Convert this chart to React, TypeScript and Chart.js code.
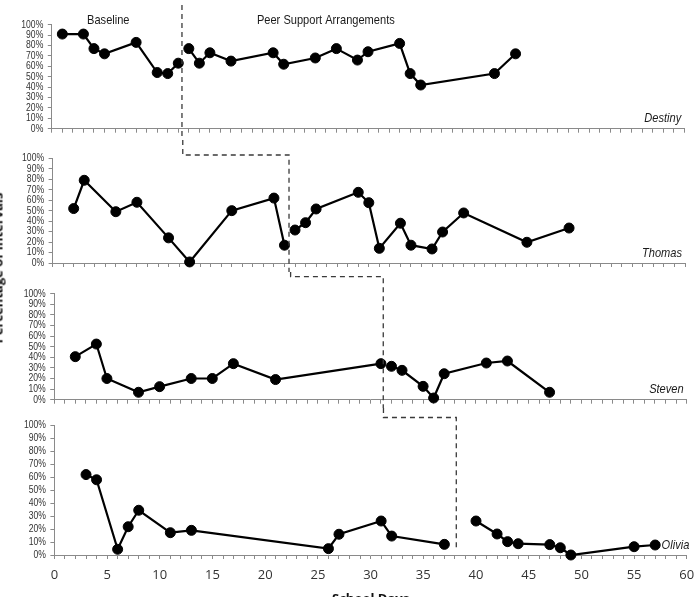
import React, { useEffect, useRef } from 'react';
import { Chart, registerables } from 'chart.js';

Chart.register(...registerables);

// ---------- data ----------
const students = ['Destiny', 'Thomas', 'Steven', 'Olivia'];
const phaseNames = ['Baseline', 'Peer Support Arrangements'];
const xAxisTitle = 'School Days';
const yAxisTitle = 'Percentage of Intervals';

const destinyBaselineDays = [1, 3, 4, 5, 8, 10, 11, 12];
const destinyBaselineValues = [91, 91, 77, 72, 83, 54, 53, 63];
const destinyPeerDays = [13, 14, 15, 17, 21, 22, 25, 27, 29, 30, 33, 34, 35, 42, 44];
const destinyPeerValues = [77, 63, 73, 65, 73, 62, 68, 77, 66, 74, 82, 53, 42, 53, 72];

const thomasBaselineDays = [2, 3, 6, 8, 11, 13, 17, 21, 22];
const thomasBaselineValues = [52, 79, 49, 58, 24, 1, 50, 62, 17];
const thomasPeerDays = [23, 24, 25, 29, 30, 31, 33, 34, 36, 37, 39, 45, 49];
const thomasPeerValues = [31.5, 38.5, 51.6, 67.5, 57.6, 14, 38, 17, 13.4, 29.6, 47.8, 19.8, 33.4];

const stevenBaselineDays = [2, 4, 5, 8, 10, 13, 15, 17, 21, 31];
const stevenBaselineValues = [40.6, 52.5, 20, 7, 12.3, 20, 20, 34, 19, 34];
const stevenPeerDays = [32, 33, 35, 36, 37, 41, 43, 47];
const stevenPeerValues = [31.5, 27.7, 12.6, 1.6, 24.5, 34.6, 36.5, 7];

const oliviaBaselineDays = [3, 4, 6, 7, 8, 11, 13, 26, 27, 31, 32, 37];
const oliviaBaselineValues = [62, 58, 4.4, 21.8, 34.5, 17.2, 19, 4.9, 16, 26.2, 14.6, 8.2];
const oliviaPeerDays = [40, 42, 43, 44, 47, 48, 49, 55, 57];
const oliviaPeerValues = [26.2, 16.2, 10.3, 8.7, 8, 5.6, 0, 6.4, 7.7];

// phase-change lines (school day position) per student
const phaseChanges = [12.35, 22.43, 31.22, 38.13];

const xMin = 0;
const xMax = 60;
const xLabelStep = 5;
const yMax = 100;
const yStep = 10;

const baselineDays = [destinyBaselineDays, thomasBaselineDays, stevenBaselineDays, oliviaBaselineDays];
const baselineValues = [destinyBaselineValues, thomasBaselineValues, stevenBaselineValues, oliviaBaselineValues];
const peerDays = [destinyPeerDays, thomasPeerDays, stevenPeerDays, oliviaPeerDays];
const peerValues = [destinyPeerValues, thomasPeerValues, stevenPeerValues, oliviaPeerValues];

// ---------- layout / style ----------
const W = 694;
const PLOT_W = 632.4;
const panelLayout = [
  { top: 0, height: 140, padTop: 24.7, axisH: 11.3, left: 51.8, connGap: 0, nameDx: -3 },
  { top: 140, height: 132, padTop: 18.3, axisH: 9, left: 52.6, connGap: 3.3, nameDx: -3 },
  { top: 272, height: 136, padTop: 21.7, axisH: 8.3, left: 54.2, connGap: 17, nameDx: -3 },
  { top: 408, height: 212, padTop: 17.3, axisH: 65, left: 54.4, connGap: 7.8, nameDx: 2.5 },
];

const SANS = '"Liberation Sans", Arial, sans-serif';
const NARROW_X = 0.82;
const AXIS_GREY = '#8a8a8a';

function toPoints(xs: number[], ys: number[]) {
  return xs.map((x, i) => ({ x, y: ys[i] }));
}

function narrowText(
  ctx: CanvasRenderingContext2D,
  text: string,
  x: number,
  y: number,
  align: CanvasTextAlign
) {
  ctx.save();
  ctx.translate(x, y);
  ctx.scale(NARROW_X, 1);
  ctx.textAlign = align;
  ctx.textBaseline = 'middle';
  ctx.fillText(text, 0, 0);
  ctx.restore();
}

function overlayPlugin(k: number) {
  return {
    id: 'overlay' + k,
    afterDraw(chart: any) {
      const ctx = chart.ctx as CanvasRenderingContext2D;
      const xs = chart.scales.x;
      const ys = chart.scales.y;
      const area = chart.chartArea;
      const L = panelLayout[k];
      const H = chart.height;
      const px = (v: number) => xs.getPixelForValue(v);
      ctx.save();
      // y tick labels (condensed, like Arial Narrow)
      ctx.fillStyle = '#333';
      ctx.font = '10.5px ' + SANS;
      for (const t of ys.ticks) {
        narrowText(ctx, t.value + '%', area.left - 8.5, ys.getPixelForValue(t.value), 'right');
      }
      // phase change dashed lines
      ctx.strokeStyle = '#3a3a3a';
      ctx.lineWidth = 1.3;
      ctx.setLineDash([5, 4]);
      ctx.beginPath();
      if (k === 0) {
        const a = px(phaseChanges[0]);
        ctx.moveTo(a, area.top - 19.7);
        ctx.lineTo(a, H);
      } else {
        const cy = area.top - L.connGap;
        const a = px(phaseChanges[k - 1]);
        const b = px(phaseChanges[k]);
        ctx.moveTo(a, 0);
        ctx.lineTo(a, cy);
        ctx.lineTo(b, cy);
        ctx.lineTo(b, k === 3 ? area.bottom - 7 : H);
      }
      ctx.stroke();
      ctx.setLineDash([]);
      // phase labels
      ctx.fillStyle = '#1a1a1a';
      if (k === 0) {
        ctx.font = '13.5px ' + SANS;
        narrowText(ctx, phaseNames[0], px(5.36), area.top - 4.7, 'center');
        narrowText(ctx, phaseNames[1], px(26.0), area.top - 4.7, 'center');
      }
      // student name
      ctx.font = 'italic 13.5px ' + SANS;
      narrowText(ctx, students[k], area.right + L.nameDx, area.bottom - 10, 'right');
      ctx.restore();
    },
  };
}

function Panel({ k }: { k: number }) {
  const ref = useRef<HTMLCanvasElement>(null);
  const L = panelLayout[k];
  useEffect(() => {
    const lineStyle = {
      borderColor: '#000',
      backgroundColor: '#000',
      borderWidth: 2.2,
      pointRadius: 5,
      pointBorderWidth: 1,
      pointBackgroundColor: '#000',
      pointBorderColor: '#000',
      tension: 0,
      fill: false,
      clip: false as any,
    };
    const chart = new Chart(ref.current as HTMLCanvasElement, {
      type: 'line',
      data: {
        datasets: [
          { data: toPoints(baselineDays[k], baselineValues[k]), ...lineStyle },
          { data: toPoints(peerDays[k], peerValues[k]), ...lineStyle },
        ],
      },
      options: {
        animation: false,
        responsive: false,
        maintainAspectRatio: false,
        events: [],
        layout: { padding: { top: L.padTop, right: W - L.left - PLOT_W, bottom: 0, left: 0 } },
        plugins: {
          legend: { display: false },
          tooltip: { enabled: false },
          title: { display: false },
        },
        scales: {
          x: {
            type: 'linear',
            min: xMin,
            max: xMax,
            afterFit: (s: any) => {
              s.height = L.axisH;
              s.paddingLeft = 0;
              s.paddingRight = 0;
            },
            ticks: {
              display: k === 3,
              stepSize: 1,
              autoSkip: false,
              maxRotation: 0,
              minRotation: 0,
              padding: 8,
              color: '#333',
              font: { family: '"Open Sans", sans-serif', size: 13 },
              callback: (v: any) => (Number(v) % xLabelStep === 0 ? String(v) : ''),
            },
            grid: {
              display: true,
              drawOnChartArea: false,
              drawTicks: true,
              tickLength: 4,
              color: AXIS_GREY,
            },
            border: { display: true, color: AXIS_GREY, width: 1 },
            title: {
              display: k === 3,
              text: xAxisTitle,
              color: '#111',
              font: { family: '"Open Sans", sans-serif', size: 13, weight: 'bold' },
              padding: { top: 0, bottom: 12.8 },
            },
          },
          y: {
            type: 'linear',
            min: 0,
            max: yMax,
            afterFit: (s: any) => {
              s.width = L.left;
              s.paddingTop = 0;
              s.paddingBottom = 0;
            },
            ticks: {
              display: false,
              autoSkip: false,
              stepSize: yStep,
            },
            grid: {
              display: true,
              drawOnChartArea: false,
              drawTicks: true,
              tickLength: 4,
              color: AXIS_GREY,
            },
            border: { display: true, color: AXIS_GREY, width: 1 },
          },
        },
      } as any,
      plugins: [overlayPlugin(k)],
    });
    return () => chart.destroy();
  }, []);
  return (
    <canvas
      ref={ref}
      width={W}
      height={L.height}
      style={{ position: 'absolute', left: 0, top: L.top, width: W, height: L.height }}
    />
  );
}

export default function App() {
  return (
    <div
      style={{
        position: 'absolute',
        left: 0,
        top: 0,
        width: W,
        height: 597,
        overflow: 'hidden',
        background: '#fff',
      }}
    >
      {students.map((_, k) => (
        <Panel key={k} k={k} />
      ))}
      <div
        style={{
          position: 'absolute',
          left: -2,
          top: 268,
          transform: 'translate(-50%, -50%) rotate(-90deg)',
          whiteSpace: 'nowrap',
          fontFamily: '"Open Sans", sans-serif',
          fontWeight: 'bold',
          fontSize: 13,
          lineHeight: '13px',
          color: '#111',
        }}
      >
        {yAxisTitle}
      </div>
    </div>
  );
}
